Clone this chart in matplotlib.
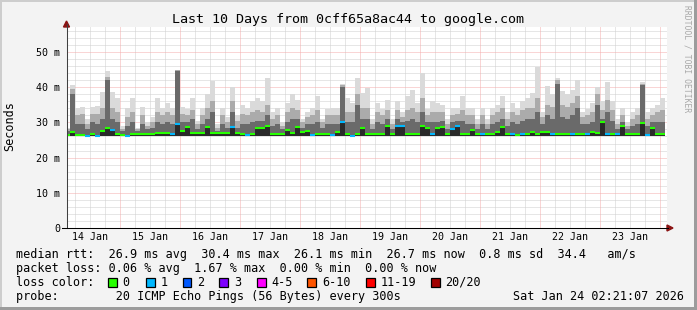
import numpy as np
import matplotlib
matplotlib.use("Agg")
import matplotlib.pyplot as plt
from matplotlib.patches import Polygon, Rectangle
from matplotlib.lines import Line2D
from matplotlib.transforms import IdentityTransform

# ---------------- data ----------------
title = "Last 10 Days from 0cff65a8ac44 to google.com"
day_labels = ["14 Jan", "15 Jan", "16 Jan", "17 Jan", "18 Jan",
              "19 Jan", "20 Jan", "21 Jan", "22 Jan", "23 Jan"]
ytick_values = [0, 10, 20, 30, 40, 50]
ytick_labels = ["0", "10 m", "20 m", "30 m", "40 m", "50 m"]

# 2-hour columns starting Jan 14 02:00 (ms)
smoke_max = [28.5, 40.5, 34, 34.4, 31, 34.5, 34.7, 38.6, 44.5, 38.6,
             37, 29, 34, 37, 28.5, 34.4, 30, 31.5, 37, 34,
             35.5, 34, 45, 34.3, 33.8, 37, 30.5, 34, 38, 41.8,
             29.5, 34, 31.5, 40, 32, 35, 34, 36, 37, 36,
             42.5, 33, 34, 30, 35.5, 38, 36.4, 31, 33, 34,
             37.4, 31, 33.8, 34, 34, 40.9, 37, 35.5, 42.6, 38.3,
             39.7, 31, 35.5, 33.9, 36.4, 31, 36, 33, 37.4, 39.2,
             35.5, 44, 33.9, 36, 35.5, 35, 31, 34, 34, 37.4,
             34, 34, 31, 34, 31, 34, 35, 37.4, 33, 35.5,
             34, 36, 37, 38.3, 45.6, 33, 40.3, 38, 42.6, 39,
             38, 39.2, 42, 33, 33.9, 35.5, 40, 36, 41.5, 36,
             31, 34, 30, 33, 34, 41.5, 33, 34, 35, 37]
smoke_p90 = [28, 39.5, 32, 32.5, 29.5, 32.5, 32.5, 34, 43, 34,
             33, 28, 31.5, 33, 28, 32, 29, 30, 33, 32,
             33, 32, 45, 32.5, 32, 33.5, 29.5, 32, 34, 36,
             28.5, 32, 30, 36, 30.5, 32.5, 32, 33, 33.5, 33,
             35, 31, 32, 29, 33, 34, 33.5, 30, 31.5, 32,
             33.5, 30, 32, 32, 32, 40.5, 33, 33, 38, 34,
             34, 29.5, 33, 32, 33.5, 29.5, 33.5, 31.5, 33.5, 34,
             33, 37, 32, 33, 33, 33, 29.5, 32, 32.5, 33.5,
             32, 32, 29.5, 32, 29.5, 32, 33, 34, 31, 33,
             32, 33.5, 34, 34, 37, 31.5, 35, 34.5, 42, 35,
             34.5, 35.5, 37.5, 31.5, 32, 33, 38, 33.5, 36.5, 33.5,
             29.5, 32, 29, 31, 32, 41, 31, 32, 33, 33.5]
smoke_p75 = [27.5, 38, 29.5, 29.5, 28, 30, 29.5, 31, 42, 31,
             30, 27.5, 29, 30, 27.5, 29.5, 28, 28.5, 30, 29.5,
             30, 29.5, 44.5, 30, 30, 31, 28, 29.5, 31, 33,
             27.5, 29.5, 28.5, 33, 28.5, 29.5, 29.5, 30, 30.5, 30.5,
             32, 29, 29.5, 28, 30, 31, 31, 28.5, 29.5, 29.5,
             30, 28.5, 29.5, 29.5, 29.5, 40, 30, 30, 35, 31,
             31, 28, 30, 29.5, 31, 28, 31, 30, 30.5, 31,
             30, 33, 30, 30, 30, 30.5, 28, 30, 30.5, 30.5,
             29.5, 29.5, 28, 29.5, 28, 29.5, 30, 31, 29, 30,
             29.5, 30.5, 31, 31, 33, 29.5, 32, 31, 41, 31.5,
             31, 32, 34, 29.5, 29.5, 30, 35, 31, 33, 30.5,
             28, 30, 28, 29, 29.5, 40.5, 29, 30, 30, 30]
median_rtt = [26.5, 27.2, 26.5, 26.5, 26.2, 26.8, 26.2, 27.5, 28.4, 27.9,
              26.6, 26.3, 26.1, 26.7, 26.7, 26.7, 26.7, 26.8, 26.9, 26.9,
              26.9, 26.7, 29.6, 27.6, 28.7, 27.0, 26.9, 27.0, 28.6, 26.9,
              26.9, 26.9, 27.0, 28.8, 27.1, 26.8, 26.5, 26.8, 28.3, 28.4,
              29.1, 26.8, 26.8, 26.8, 27.7, 26.9, 28.8, 27.4, 27.6, 26.5,
              26.8, 26.8, 26.8, 26.5, 27.4, 30.1, 26.8, 26.2, 26.8, 28.4,
              26.8, 26.8, 26.6, 26.8, 29.1, 26.8, 28.9, 28.9, 26.8, 26.8,
              26.8, 28.9, 28.5, 26.6, 28.4, 28.8, 26.8, 28.2, 28.9, 26.8,
              26.8, 27.8, 26.8, 26.6, 26.8, 26.8, 27.4, 28.6, 26.8, 26.6,
              26.4, 26.6, 26.8, 27.2, 26.8, 27.2, 27.2, 26.6, 26.8, 26.8,
              26.8, 26.6, 26.8, 26.8, 26.6, 27.2, 27.1, 30.1, 26.6, 26.8,
              26.6, 29.1, 26.8, 26.8, 26.8, 29.9, 26.5, 28.3, 26.8, 26.8]
lost_pings = [0, 0, 0, 0, 1, 0, 1, 0, 0, 1,
              0, 0, 1, 0, 0, 0, 0, 0, 0, 0,
              0, 1, 1, 0, 0, 0, 0, 0, 0, 0,
              0, 0, 0, 1, 0, 0, 1, 0, 0, 0,
              0, 0, 0, 0, 0, 0, 0, 0, 0, 1,
              0, 0, 0, 1, 0, 1, 0, 1, 0, 0,
              0, 0, 0, 0, 0, 0, 1, 1, 0, 0,
              0, 0, 0, 1, 0, 0, 0, 1, 1, 0,
              0, 0, 0, 1, 0, 0, 0, 0, 0, 1,
              0, 1, 0, 0, 0, 0, 0, 1, 0, 0,
              0, 1, 0, 0, 1, 0, 0, 0, 1, 0,
              1, 0, 0, 0, 0, 0, 1, 0, 0, 0]
smoke_min = 26.2

loss_labels = ["0", "1", "2", "3", "4-5", "6-10", "11-19", "20/20"]
loss_colors = ["#26ff00", "#00b8ff", "#0059ff", "#7e00ff",
               "#ff00ff", "#ff5500", "#ff0000", "#a10000"]

line_rtt = "median rtt:  26.9 ms avg  30.4 ms max  26.1 ms min  26.7 ms now  0.8 ms sd  34.4   am/s"
line_loss = "packet loss: 0.06 % avg  1.67 % max  0.00 % min  0.00 % now"
line_probe = "probe:        20 ICMP Echo Pings (56 Bytes) every 300s"
date_text = "Sat Jan 24 02:21:07 2026"

# ---------------- figure ----------------
W, H = 697, 310
MONO = "DejaVu Sans Mono"
plt.rcParams["font.family"] = MONO

fig = plt.figure(figsize=(W / 100, H / 100), dpi=100, facecolor="#f3f3f3")


def fy(y):
    return 1 - y / H


ax_left, ax_right, ax_top, ax_bot = 66.5, 666.5, 27, 228
ax = fig.add_axes([ax_left / W, fy(ax_bot), (ax_right - ax_left) / W,
                   (ax_bot - ax_top) / H])
ax.set_facecolor("white")
x0h = 2.6
ax.set_xlim(x0h, x0h + 240)
ax.set_ylim(0, (ax_bot - ax_top) / 3.52)

n = len(smoke_max)
xs = 2 + 2 * np.arange(n)
smax = np.array(smoke_max)
p90 = np.array(smoke_p90)
p75 = np.array(smoke_p75)
med = np.array(median_rtt)

bar_kw = dict(width=2, align="edge", linewidth=0, antialiased=False, zorder=1)
ax.bar(xs, np.clip(med - smoke_min, 0, None), bottom=smoke_min, color="#2a2a2a", **bar_kw)
ax.bar(xs, np.clip(p75 - med, 0, None), bottom=med, color="#6a6a6a", **bar_kw)
ax.bar(xs, np.clip(p90 - p75, 0, None), bottom=p75, color="#ababab", **bar_kw)
ax.bar(xs, np.clip(smax - p90, 0, None), bottom=p90, color="#dadada", **bar_kw)

seg_colors = [loss_colors[l] for l in lost_pings]
ax.hlines(med, xs, xs + 2, colors=seg_colors, linewidth=1.5, zorder=3,
          capstyle="butt")

# grid
dot = (0, (1, 1))
for v in np.arange(2, 57, 2):
    if v % 10 == 0:
        continue
    ax.axhline(v, color="#cfcfcf", lw=0.72, ls=dot, zorder=0.5)
for v in ytick_values[1:]:
    ax.axhline(v, color="#f4acac", lw=0.72, ls=dot, zorder=0.6)
for h in np.arange(6, 243, 6):
    if h % 24 == 0:
        continue
    ax.axvline(h, color="#cfcfcf", lw=0.72, ls=dot, zorder=0.5)
for h in np.arange(24, 243, 24):
    ax.axvline(h, color="#f4acac", lw=0.72, ls=dot, zorder=0.6)

for s in ax.spines.values():
    s.set_visible(False)

ax.set_yticks(ytick_values)
ax.set_yticklabels(ytick_labels)
ax.set_xticks(12 + 24 * np.arange(len(day_labels)))
ax.set_xticklabels(day_labels)
ax.tick_params(axis="y", length=0, pad=4.7, labelsize=7.2)
ax.tick_params(axis="x", length=0, pad=2.9, labelsize=7.2)

T = IdentityTransform()
# axes lines and arrows
fig.add_artist(Line2D([ax_left, ax_left], [H - ax_bot, H - 24], color="#404040",
                      lw=0.75, transform=T))
fig.add_artist(Line2D([62, 668], [H - ax_bot, H - ax_bot], color="black",
                      lw=0.75, transform=T))
fig.add_artist(Polygon([(63.5, H - 27), (69.5, H - 27), (66.5, H - 21)],
                       closed=True, color="#8b1414", transform=T))
fig.add_artist(Polygon([(667, H - 225), (667, H - 231), (673, H - 228)],
                       closed=True, color="#8b1414", transform=T))

# texts
fig.text(348 / W, fy(19.5), title, ha="center", va="center", fontsize=9.6,
         color="black")
fig.text(10 / W, fy(126), "Seconds", rotation=90, ha="center", va="center",
         fontsize=8.5)
fig.text(687 / W, fy(58.5), "RRDTOOL / TOBI OETIKER", rotation=270,
         ha="center", va="center", fontsize=5.8, color="#a8a8a8")

LX = 16
fig.text(LX / W, fy(254.3), line_rtt, ha="left", va="center", fontsize=8.5)
fig.text(LX / W, fy(268.3), line_loss, ha="left", va="center", fontsize=8.5)
fig.text(LX / W, fy(282.3), "loss color:", ha="left", va="center", fontsize=8.5)
fig.text(LX / W, fy(296.3), line_probe, ha="left", va="center", fontsize=8.5)
fig.text(513 / W, fy(296.3), date_text, ha="left", va="center", fontsize=8.5)

box_x = [108, 146.3, 182.7, 219.3, 257, 307.3, 366, 431]
for bx, lab, col in zip(box_x, loss_labels, loss_colors):
    fig.add_artist(Rectangle((bx, H - 286.5), 8.5, 8.5, facecolor=col,
                             edgecolor="black", lw=0.9, transform=T))
    fig.text((bx + 14.5) / W, fy(282.3), lab, ha="left", va="center",
             fontsize=8.5)

# border
fig.add_artist(Rectangle((0, H - 2), W, 2, color="#cdcdcd", lw=0, transform=T))
fig.add_artist(Rectangle((0, 0), 2, H, color="#cdcdcd", lw=0, transform=T))
fig.add_artist(Rectangle((0, 0), W, 3, color="#9c9c9c", lw=0, transform=T))
fig.add_artist(Rectangle((W - 3, 0), 3, H, color="#9c9c9c", lw=0, transform=T))

fig.savefig("out.png", dpi=100, facecolor=fig.get_facecolor())
